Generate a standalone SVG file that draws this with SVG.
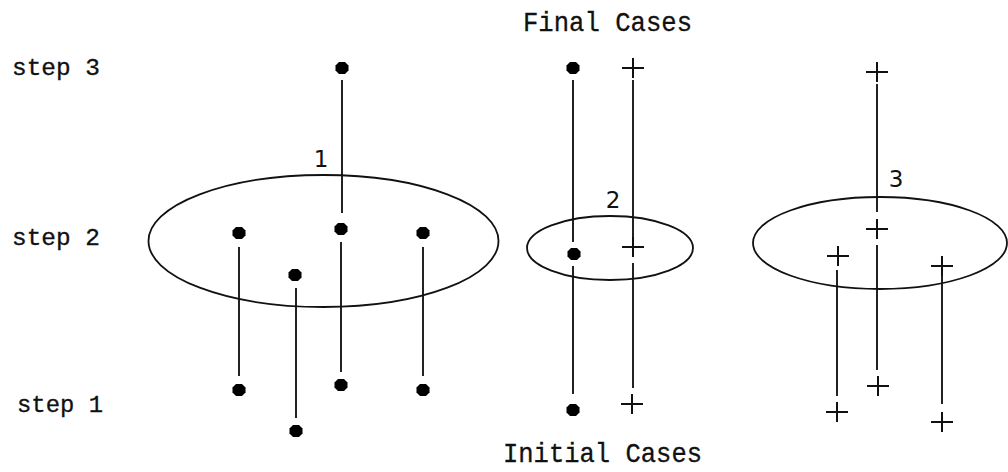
<svg xmlns="http://www.w3.org/2000/svg" width="1008" height="472" viewBox="0 0 1008 472">
<defs>
<style>
.lbl{font-family:"Liberation Mono","DejaVu Sans Mono",monospace;font-size:23px;fill:#111;stroke:#111;stroke-width:0.3}
.ttl{font-family:"Liberation Mono","DejaVu Sans Mono",monospace;font-size:28px;fill:#111;stroke:#111;stroke-width:0.3}
.num{font-family:"DejaVu Sans","Liberation Sans",sans-serif;font-size:23px;fill:#111;text-anchor:middle}
.ln{stroke:#222;stroke-width:2;fill:none}
.ell{stroke:#111;stroke-width:1.8;fill:none}
.dot{fill:#000}
.plus{stroke:#111;stroke-width:2;fill:none}
</style>
<path id="d" d="M-3,-6 L3,-6 L6.5,-2.5 L6.5,2.5 L3,6 L-3,6 L-6.5,2.5 L-6.5,-2.5 Z" class="dot"/>
<path id="p" d="M-11,0 H11 M0,-10 V10" class="plus"/>
</defs>
<rect width="1008" height="472" fill="#fff"/>
<g id="labels">
<text class="lbl" x="12" y="75" textLength="88" lengthAdjust="spacingAndGlyphs">step 3</text>
<text class="lbl" x="12" y="245" textLength="88" lengthAdjust="spacingAndGlyphs">step 2</text>
<text class="lbl" x="17" y="412" textLength="86" lengthAdjust="spacingAndGlyphs">step 1</text>
<text class="ttl" x="523" y="31" textLength="169" lengthAdjust="spacingAndGlyphs">Final Cases</text>
<text class="ttl" x="503" y="462" textLength="199" lengthAdjust="spacingAndGlyphs">Initial Cases</text>
</g>
<g id="connectors">
<line class="ln" x1="342" y1="80" x2="342" y2="213"/>
<line class="ln" x1="239" y1="247" x2="239" y2="376"/>
<line class="ln" x1="296" y1="288" x2="296" y2="418"/>
<line class="ln" x1="341" y1="242" x2="341" y2="372"/>
<line class="ln" x1="423" y1="247" x2="423" y2="376"/>
<line class="ln" x1="573" y1="80" x2="573" y2="242"/>
<line class="ln" x1="573" y1="266" x2="573" y2="394"/>
<line class="ln" x1="633" y1="80" x2="633" y2="237"/>
<line class="ln" x1="633" y1="263" x2="633" y2="388"/>
<line class="ln" x1="877" y1="84" x2="877" y2="212"/>
<line class="ln" x1="877" y1="245" x2="877" y2="370"/>
<line class="ln" x1="837" y1="270" x2="837" y2="396"/>
<line class="ln" x1="942" y1="276" x2="942" y2="404"/>
</g>
<g id="group1">
<ellipse class="ell" cx="323.5" cy="241" rx="175" ry="66"/>
<text class="num" x="321" y="167">1</text>
</g>
<g id="group2">
<ellipse class="ell" cx="610" cy="248" rx="83" ry="32"/>
<text class="num" x="613" y="208">2</text>
</g>
<g id="group3">
<ellipse class="ell" cx="880" cy="243" rx="127" ry="46"/>
<text class="num" x="896" y="187">3</text>
</g>
<g id="n1-top"><use href="#d" x="342" y="68"/></g>
<g id="n1-a2"><use href="#d" x="239" y="233"/></g>
<g id="n1-b2"><use href="#d" x="295" y="275"/></g>
<g id="n1-c2"><use href="#d" x="341" y="229"/></g>
<g id="n1-d2"><use href="#d" x="423" y="233"/></g>
<g id="n1-a1"><use href="#d" x="239" y="390"/></g>
<g id="n1-b1"><use href="#d" x="296" y="431"/></g>
<g id="n1-c1"><use href="#d" x="341" y="385"/></g>
<g id="n1-d1"><use href="#d" x="423" y="390"/></g>
<g id="n2-dot3"><use href="#d" x="573" y="68"/></g>
<g id="n2-plus3"><use href="#p" x="633" y="68"/></g>
<g id="n2-dot2"><use href="#d" x="574" y="254"/></g>
<g id="n2-plus2"><use href="#p" x="633" y="247"/></g>
<g id="n2-dot1"><use href="#d" x="573" y="410"/></g>
<g id="n2-plus1"><use href="#p" x="632" y="404"/></g>
<g id="n3-top"><use href="#p" x="877" y="72"/></g>
<g id="n3-c2"><use href="#p" x="877" y="229"/></g>
<g id="n3-l2"><use href="#p" x="838" y="256"/></g>
<g id="n3-r2"><use href="#p" x="942" y="266"/></g>
<g id="n3-c1"><use href="#p" x="878" y="386"/></g>
<g id="n3-l1"><use href="#p" x="837" y="412"/></g>
<g id="n3-r1"><use href="#p" x="942" y="422"/></g>
</svg>
